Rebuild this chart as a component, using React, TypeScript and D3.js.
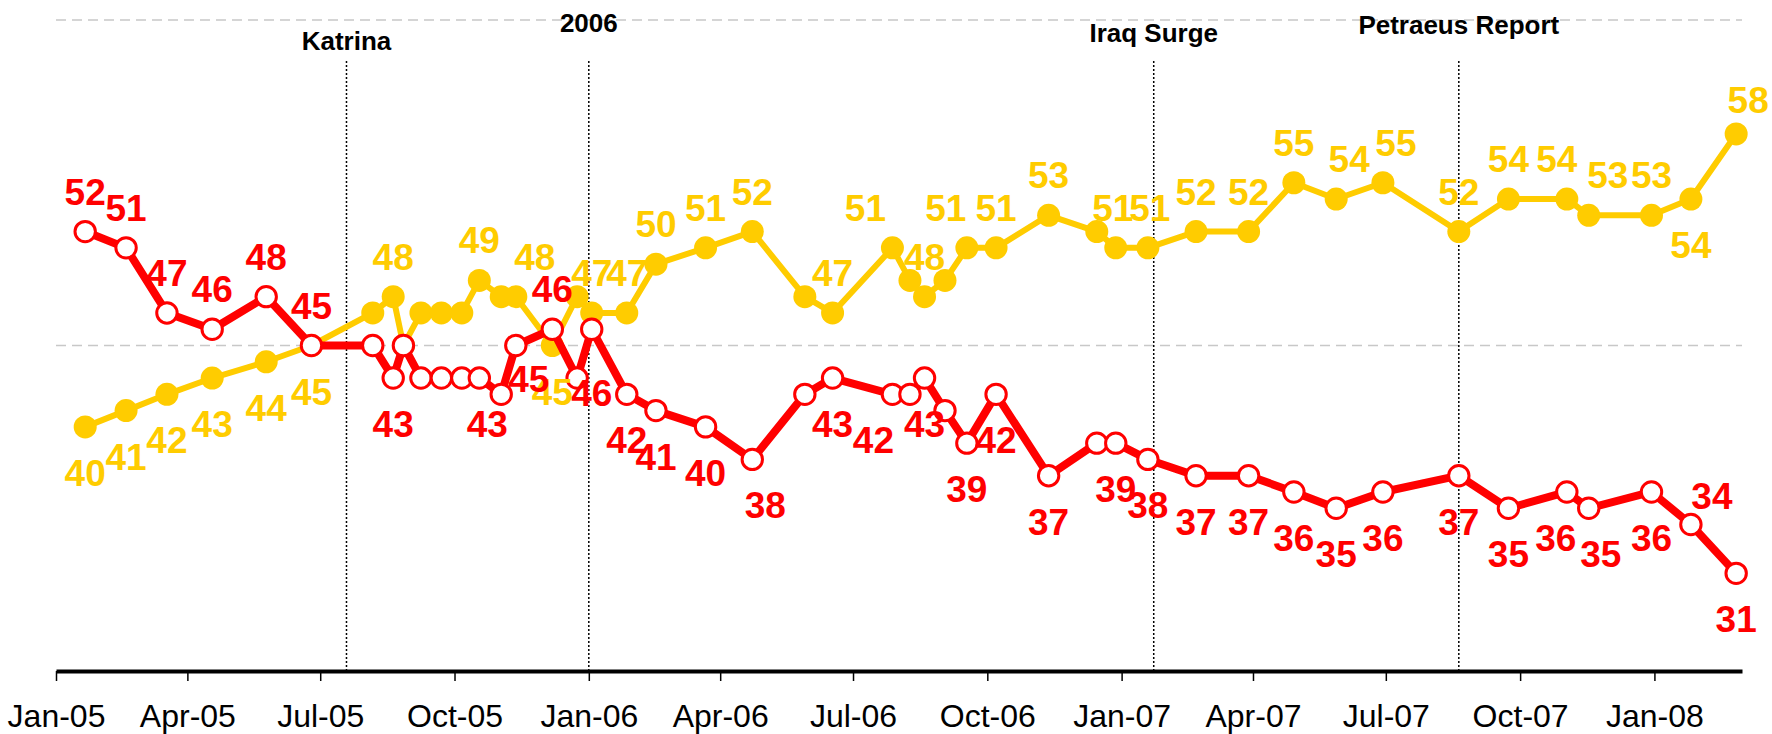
import React, { useRef, useEffect } from "react";
import * as d3 from "d3";

// poll dates (one per survey) and the two series
const pollDates = [
  "2005-01-21", "2005-02-18", "2005-03-18", "2005-04-18", "2005-05-25", "2005-06-25",
  "2005-08-06", "2005-08-20", "2005-08-27", "2005-09-08", "2005-09-22", "2005-10-06",
  "2005-10-18", "2005-11-02", "2005-11-12", "2005-12-07", "2005-12-24", "2006-01-03",
  "2006-01-27", "2006-02-16", "2006-03-22", "2006-04-23", "2006-05-29", "2006-06-17",
  "2006-07-28", "2006-08-09", "2006-08-19", "2006-09-02", "2006-09-17", "2006-10-07",
  "2006-11-12", "2006-12-15", "2006-12-28", "2007-01-19", "2007-02-21", "2007-03-29",
  "2007-04-29", "2007-05-28", "2007-06-29", "2007-08-20", "2007-09-23", "2007-11-02",
  "2007-11-17", "2007-12-30", "2008-01-26", "2008-02-26"
];

const disapprove = [
  40, 41, 42, 43, 44, 45, 47, 48, 45, 47, 47, 47,
  49, 48, 48, 45, 48, 47, 47, 50, 51, 52, 48, 47,
  51, 49, 48, 49, 51, 51, 53, 52, 51, 51, 52, 52,
  55, 54, 55, 52, 54, 54, 53, 53, 54, 58
];

const approve = [
  52, 51, 47, 46, 48, 45, 45, 43, 45, 43, 43, 43,
  43, 42, 45, 46, 43, 46, 42, 41, 40, 38, 42, 43,
  42, 42, 43, 41, 39, 42, 37, 39, 39, 38, 37, 37,
  36, 35, 36, 37, 35, 36, 35, 36, 34, 31
];

// polls whose values carry no data label in the original
const unlabeledPolls = [6, 8, 9, 10, 11, 13, 16, 22, 25, 27, 31];
// polls where the labels sit on the "wrong" side of the line
const flippedLabels = [44];

const gridValues = [45, 65];

const events = ["Katrina", "2006", "Iraq Surge", "Petraeus Report"];
const eventDates = ["2005-07-19", "2006-01-01", "2007-01-23", "2007-08-20"];

const YELLOW = "#FFCC00";
const RED = "#FF0000";
const FONT = "'Liberation Sans', Arial, Helvetica, sans-serif";

function App() {
  const chartRef = useRef<HTMLDivElement>(null);

  useEffect(() => {
    const root = d3.select(chartRef.current);
    root.select("svg").remove();

    const width = 1772,
      height = 734;

    const parse = d3.timeParse("%Y-%m-%d");
    const dates = pollDates.map(d => parse(d) as Date);

    const x = d3
      .scaleTime()
      .domain([new Date(2005, 0, 1), new Date(2008, 2, 1)])
      .range([56, 1742]);
    const y = d3.scaleLinear().domain([25, 65]).range([671, 20]);

    const svg = root
      .append("svg")
      .attr("width", width)
      .attr("height", height)
      .style("position", "absolute")
      .style("left", "0px")
      .style("top", "0px")
      .style("background", "#fff");

    // dashed gridlines
    svg
      .selectAll(".grid")
      .data(gridValues)
      .enter()
      .append("line")
      .attr("x1", x.range()[0])
      .attr("x2", x.range()[1])
      .attr("y1", d => y(d))
      .attr("y2", d => y(d))
      .attr("stroke", "#c8c8c8")
      .attr("stroke-width", 1.5)
      .attr("stroke-dasharray", "10,6");

    // event markers
    const labelBaseline = [50, 32, 42, 34];
    const ev = svg
      .selectAll(".event")
      .data(events)
      .enter()
      .append("g");
    ev.append("line")
      .attr("x1", (d, i) => x(parse(eventDates[i]) as Date))
      .attr("x2", (d, i) => x(parse(eventDates[i]) as Date))
      .attr("y1", 61)
      .attr("y2", y(25))
      .attr("stroke", "#000")
      .attr("stroke-width", 1.5)
      .attr("stroke-dasharray", "2,2");
    ev.append("text")
      .attr("x", (d, i) => x(parse(eventDates[i]) as Date))
      .attr("y", (d, i) => labelBaseline[i])
      .attr("text-anchor", "middle")
      .attr("font-family", FONT)
      .attr("font-weight", "bold")
      .attr("font-size", "26px")
      .attr("fill", "#000")
      .text(d => d);

    // x axis
    const axis = d3
      .axisBottom(x)
      .ticks(d3.timeMonth.every(3))
      .tickFormat(d => d3.timeFormat("%b-%y")(d as Date))
      .tickSize(10)
      .tickSizeOuter(0)
      .tickPadding(23);
    const gx = svg
      .append("g")
      .attr("transform", `translate(0, ${y(25)})`)
      .call(axis);
    gx.select(".domain").attr("stroke", "#000").attr("stroke-width", 4);
    gx.selectAll(".tick line").attr("stroke", "#000").attr("stroke-width", 1.5);
    gx.selectAll(".tick text")
      .attr("font-family", FONT)
      .attr("font-size", "32px")
      .attr("fill", "#000");

    const line = d3
      .line<number>()
      .x((d, i) => x(dates[i]))
      .y(d => y(d));

    // disapprove (yellow, filled markers)
    svg
      .append("path")
      .attr("d", line(disapprove))
      .attr("fill", "none")
      .attr("stroke", YELLOW)
      .attr("stroke-width", 6)
      .attr("stroke-linejoin", "round");
    svg
      .selectAll(".ydot")
      .data(disapprove)
      .enter()
      .append("circle")
      .attr("cx", (d, i) => x(dates[i]))
      .attr("cy", d => y(d))
      .attr("r", 11.5)
      .attr("fill", YELLOW);

    // approve (red, hollow markers)
    svg
      .append("path")
      .attr("d", line(approve))
      .attr("fill", "none")
      .attr("stroke", RED)
      .attr("stroke-width", 8)
      .attr("stroke-linejoin", "round");
    svg
      .selectAll(".rdot")
      .data(approve)
      .enter()
      .append("circle")
      .attr("cx", (d, i) => x(dates[i]))
      .attr("cy", d => y(d))
      .attr("r", 10.2)
      .attr("fill", "#fff")
      .attr("stroke", RED)
      .attr("stroke-width", 3);

    // data labels, nudged where the original moved them apart
    const yellowNudge: Record<number, number> = { 14: 19, 24: -27, 28: -21, 32: -3, 33: 2, 37: 13, 38: 13, 41: -10, 42: 19, 45: 12 };
    const redNudge: Record<number, number> = { 12: 8, 14: 13, 21: 13, 24: -19, 41: -11, 42: 12, 44: 21 };
    const yellowDrop: Record<number, number> = { 45: 6 };
    const redDrop: Record<number, number> = { 14: -13, 17: 18, 44: 11 };

    const drawLabels = (
      values: number[],
      other: number[],
      color: string,
      isRed: boolean,
      nudge: Record<number, number>,
      drop: Record<number, number>
    ) => {
      const idx = values.map((v, i) => i).filter(i => !unlabeledPolls.includes(i));
      svg
        .append("g")
        .selectAll("text")
        .data(idx)
        .enter()
        .append("text")
        .attr("x", i => x(dates[i]) + (nudge[i] || 0))
        .attr("y", i => {
          let above = isRed ? values[i] >= other[i] : values[i] > other[i];
          if (flippedLabels.includes(i)) above = !above;
          const center = y(values[i]) + (above ? -40 : 46) + (drop[i] || 0);
          return center + 13;
        })
        .attr("text-anchor", "middle")
        .attr("font-family", FONT)
        .attr("font-weight", "bold")
        .attr("font-size", "37px")
        .attr("fill", color)
        .text(i => values[i]);
    };

    drawLabels(disapprove, approve, YELLOW, false, yellowNudge, yellowDrop);
    drawLabels(approve, disapprove, RED, true, redNudge, redDrop);
  }, []);

  return <div ref={chartRef}></div>;
}

export default App;
